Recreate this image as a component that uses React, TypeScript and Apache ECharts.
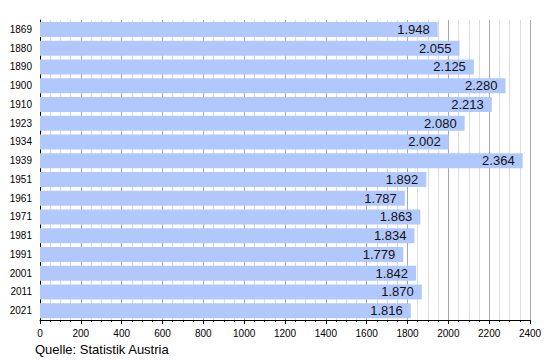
import React, { useEffect, useRef } from "react";
import * as echarts from "echarts";

const years = ["1869", "1880", "1890", "1900", "1910", "1923", "1934", "1939", "1951", "1961", "1971", "1981", "1991", "2001", "2011", "2021"];
const population = [1948, 2055, 2125, 2280, 2213, 2080, 2002, 2364, 1892, 1787, 1863, 1834, 1779, 1842, 1870, 1816];
const xTicks = { min: 0, max: 2400, interval: 200 };
const sourceText = "Quelle: Statistik Austria";

const fmt = (v: number) => {
  const s = String(Math.round(v));
  return s.replace(/\B(?=(\d{3})+(?!\d))/g, ".");
};

export default function App() {
  const ref = useRef<HTMLDivElement>(null);
  useEffect(() => {
    const chart = echarts.init(ref.current!, null, { renderer: "svg" });
    chart.setOption({
      animation: false,
      textStyle: { fontFamily: "Liberation Sans, Arial, sans-serif" },
      grid: { left: 40, right: 20, top: 20, bottom: 40 },
      xAxis: {
        type: "value",
        min: xTicks.min,
        max: xTicks.max,
        interval: xTicks.interval,
        axisLine: { show: true, lineStyle: { color: "#000", width: 1 } },
        axisTick: { show: true, length: 4, lineStyle: { color: "#000" } },
        minorTick: { show: true, splitNumber: 4, length: 2, lineStyle: { color: "#000" } },
        splitLine: { show: true, lineStyle: { color: "#a8a8a8", width: 1 } },
        minorSplitLine: { show: true, lineStyle: { color: "#dcdcdc", width: 1 } },
        axisLabel: { color: "#000", fontSize: 10, margin: 8, formatter: (v: number) => String(v) },
      },
      yAxis: {
        type: "category",
        data: years,
        inverse: true,
        axisLine: { show: true, lineStyle: { color: "#000", width: 1 } },
        axisTick: { show: false },
        axisLabel: { color: "#000", fontSize: 10, margin: 8 },
      },
      series: [
        {
          type: "bar",
          data: population,
          barCategoryGap: "20%",
          itemStyle: { color: "#b1c8fd" },
          label: {
            show: true,
            position: "insideRight",
            distance: 8,
            color: "#111",
            fontSize: 13,
            formatter: (p: any) => fmt(p.value),
          },
        },
      ],
      graphic: [
        {
          type: "text",
          left: 35,
          top: 343,
          style: { text: sourceText, fill: "#000", fontSize: 13, fontFamily: "Liberation Sans, Arial, sans-serif" },
        },
      ],
    });
    return () => chart.dispose();
  }, []);
  return <div ref={ref} style={{ width: 550, height: 360, position: "absolute", left: 0, top: 0 }} />;
}
